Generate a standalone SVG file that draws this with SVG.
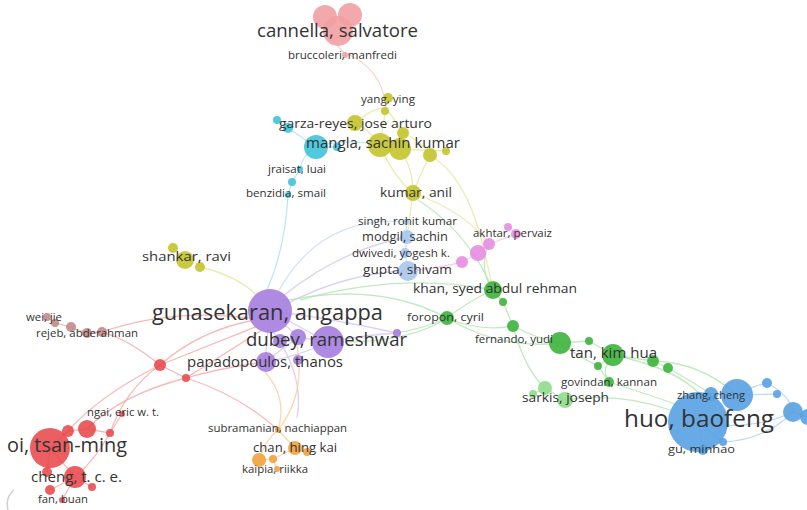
<svg xmlns="http://www.w3.org/2000/svg" width="807" height="510" viewBox="0 0 807 510">
<style>
text{font-family:"Open Sans","Noto Sans","DejaVu Sans",sans-serif;fill:#333;}
.e{fill:none;stroke-width:1.3;stroke-opacity:0.75;}
.er{stroke:#f4a3a3}.ep{stroke:#f6c6bc}.ey{stroke:#e4e49a}.ec{stroke:#a6e1ec}.elb{stroke:#c6daf3}.epk{stroke:#f1c2ee}
.eg{stroke:#ade3a9}.eb{stroke:#a9cdef}.epu{stroke:#d2c0f2}.eo{stroke:#f8ca98}.ebr{stroke:#dcb2b2}
.red{fill:#e8484b;fill-opacity:.88}.pk{fill:#f2a0a2;fill-opacity:.9}.yl{fill:#c4c42c;fill-opacity:.9}.cy{fill:#3ec3da;fill-opacity:.9}
.lb{fill:#a7c6ec;fill-opacity:.9}.pi{fill:#e68de1;fill-opacity:.9}.gr{fill:#3cb43c;fill-opacity:.9}.lg{fill:#8edb89;fill-opacity:.9}
.bl{fill:#58a1e2;fill-opacity:.9}.pu{fill:#a57de0;fill-opacity:.9}.or{fill:#f2a443;fill-opacity:.92}.br{fill:#c48a8a;fill-opacity:.9}
</style>
<rect width="807" height="510" fill="#fff"/>
<g id="connectors">
<path class="e ep" d="M343,52 Q383,68 386,108"/>
<path class="e ep" d="M338,46 Q350,60 343,55"/>
<path class="e ey" d="M386,108 L380,145"/>
<path class="e ey" d="M386,108 Q395,120 403,133"/>
<path class="e ey" d="M355,123 Q370,130 380,145"/>
<path class="e ey" d="M355,123 Q372,108 386,108"/>
<path class="e ey" d="M380,145 Q392,175 413,193"/>
<path class="e ey" d="M400,149 Q413,168 413,193"/>
<path class="e ey" d="M430,155 Q420,175 413,193"/>
<path class="e ey" d="M403,133 Q420,140 430,155"/>
<path class="e ey" d="M400,149 L446,151"/>
<path class="e ey" d="M413,193 Q466,212 489,244"/>
<path class="e ey" d="M413,193 Q410,215 407,237"/>
<path class="e ey" d="M430,155 C470,180 480,230 493,290"/>
<path class="e ey" d="M200,267 Q235,275 257,295"/>
<path class="e ec" d="M277,120 L288,128 L316,147 L337,147"/>
<path class="e ec" d="M316,147 Q302,155 300,169 L292,182 L288,195"/>
<path class="e ec" d="M288,195 Q285,250 266,292"/>
<path class="e ec" d="M316,147 Q345,138 380,145"/>
<path class="e elb" d="M406,222 L407,237 L405,253 L408,271"/>
<path class="e epu" d="M283,296 Q340,250 407,237"/>
<path class="e epu" d="M288,303 Q350,272 408,271"/>
<path class="e elb" d="M278,292 Q320,215 406,222"/>
<path class="e epk" d="M408,271 Q440,268 462,262 L478,253 L489,244 L516,234 L508,227"/>
<path class="e eg" d="M489,244 Q478,270 493,290 L503,302 L513,326"/>
<path class="e eg" d="M447,318 Q470,300 493,290"/>
<path class="e eg" d="M447,318 Q480,332 513,326"/>
<path class="e eg" d="M513,326 Q535,338 560,343"/>
<path class="e eg" d="M447,318 Q500,350 560,343"/>
<path class="e eg" d="M560,343 L589,341 L613,355"/>
<path class="e eg" d="M560,343 Q585,360 598,366 L613,355"/>
<path class="e eg" d="M613,355 L653,361 L668,368"/>
<path class="e eg" d="M613,355 Q600,370 609,382 L598,366"/>
<path class="e eg" d="M513,326 Q525,370 545,388 L565,400"/>
<path class="e eg" d="M545,388 L533,394"/>
<path class="e eg" d="M668,368 Q690,380 711,394"/>
<path class="e eg" d="M653,361 Q700,362 737,395"/>
<path class="e eg" d="M609,382 Q650,395 678,405"/>
<path class="e eg" d="M565,400 Q620,392 670,410"/>
<path class="e eg" d="M613,355 Q675,368 700,394"/>
<path class="e eg" d="M289,300 Q380,282 447,318"/>
<path class="e eg" d="M300,300 Q400,272 493,290"/>
<path class="e eg" d="M345,342 Q410,342 447,318"/>
<path class="e eg" d="M397,333 Q425,328 447,318"/>
<path class="e eg" d="M418,200 Q468,232 493,290"/>
<path class="e eb" d="M711,394 L737,395 Q755,385 767,383"/>
<path class="e eb" d="M737,395 L777,394"/>
<path class="e eb" d="M767,383 Q790,395 793,412 L807,417"/>
<path class="e eb" d="M698,422 Q750,432 793,412"/>
<path class="e eb" d="M698,422 L723,442 Q765,440 793,412"/>
<path class="e eb" d="M698,422 L703,450"/>
<path class="e epu" d="M270,311 L328,342 L298,337 L270,311 L265,362 L298,337"/>
<path class="e epu" d="M265,362 Q300,356 328,342 Q365,335 397,333"/>
<path class="e epu" d="M270,311 Q330,318 397,333"/>
<path class="e epu" d="M272,330 Q305,375 297,418"/>
<path class="e eo" d="M297,345 Q306,395 278,430"/>
<path class="e eo" d="M265,372 Q288,398 278,430 L295,448 L307,452"/>
<path class="e eo" d="M278,430 Q265,440 259,460 L273,459 L295,448"/>
<path class="e eo" d="M273,459 L277,469"/>
<path class="e er" d="M255,320 Q200,330 160,365"/>
<path class="e er" d="M258,326 Q210,345 160,365"/>
<path class="e er" d="M265,362 Q220,368 186,378"/>
<path class="e er" d="M262,330 Q215,360 186,378 L160,365"/>
<path class="e er" d="M160,365 Q130,340 102,332"/>
<path class="e er" d="M250,318 Q170,308 102,332"/>
<path class="e er" d="M160,365 Q125,390 110,433"/>
<path class="e er" d="M186,378 Q120,395 87,429"/>
<path class="e er" d="M160,365 Q100,395 68,431"/>
<path class="e er" d="M110,433 L87,429 L68,431 L50,448 L75,477"/>
<path class="e er" d="M122,414 L110,433 Q95,460 75,477 L92,487"/>
<path class="e er" d="M75,477 Q60,485 50,490 M75,477 L62,500 M47,472 L50,448"/>
<path class="e er" d="M186,378 Q240,395 278,430"/>
<path class="e ebr" d="M47,317 L55,323 L71,327 L87,333 L102,332"/>
<path d="M14,490 Q5,497 8,510" fill="none" stroke="#cfcfcf" stroke-width="1.5"/>
</g>
<g id="n-c2"><circle class="pk" cx="325" cy="17" r="12"/></g>
<g id="n-c3"><circle class="pk" cx="350" cy="15" r="12"/></g>
<g id="n-cannella"><circle class="pk" cx="338" cy="31" r="15"/><text x="257" y="37" font-size="18.5" textLength="161" lengthAdjust="spacingAndGlyphs">cannella, salvatore</text></g>
<g id="n-bruccoleri"><circle class="pk" cx="345" cy="55" r="3"/><text x="288" y="59" font-size="11" textLength="109" lengthAdjust="spacingAndGlyphs">bruccoleri, manfredi</text></g>
<g id="n-y2"><circle class="yl" cx="385" cy="111" r="4"/></g>
<g id="n-yang"><circle class="yl" cx="388" cy="98" r="5"/><text x="361" y="103" font-size="11" textLength="54" lengthAdjust="spacingAndGlyphs">yang, ying</text></g>
<g id="n-cy1"><circle class="cy" cx="277" cy="120" r="4"/></g>
<g id="n-cy2"><circle class="cy" cx="288" cy="128" r="5"/></g>
<g id="n-cy3"><circle class="cy" cx="316" cy="147" r="12"/></g>
<g id="n-cy4"><circle class="cy" cx="337" cy="147" r="4"/></g>
<g id="n-y3"><circle class="yl" cx="403" cy="133" r="6"/></g>
<g id="n-y4"><circle class="yl" cx="400" cy="149" r="11"/></g>
<g id="n-y5"><circle class="yl" cx="430" cy="155" r="7"/></g>
<g id="n-y6"><circle class="yl" cx="446" cy="151" r="4"/></g>
<g id="n-garza"><circle class="yl" cx="355" cy="123" r="8"/><text x="279" y="128" font-size="13.5" textLength="153" lengthAdjust="spacingAndGlyphs">garza-reyes, jose arturo</text></g>
<g id="n-mangla"><circle class="yl" cx="380" cy="145" r="12"/><text x="306" y="148" font-size="14.5" textLength="154" lengthAdjust="spacingAndGlyphs">mangla, sachin kumar</text></g>
<g id="n-cy5"><circle class="cy" cx="292" cy="182" r="4"/></g>
<g id="n-jraisat"><circle class="cy" cx="300" cy="169" r="3"/><text x="268" y="173" font-size="11" textLength="58" lengthAdjust="spacingAndGlyphs">jraisat, luai</text></g>
<g id="n-benzidia"><circle class="cy" cx="288" cy="195" r="3"/><text x="246" y="197" font-size="11" textLength="80" lengthAdjust="spacingAndGlyphs">benzidia, smail</text></g>
<g id="n-kumar"><circle class="yl" cx="413" cy="193" r="8"/><text x="380" y="197" font-size="13.5" textLength="72" lengthAdjust="spacingAndGlyphs">kumar, anil</text></g>
<g id="n-singh"><circle class="lb" cx="406" cy="222" r="3"/><text x="358" y="225" font-size="11" textLength="99" lengthAdjust="spacingAndGlyphs">singh, rohit kumar</text></g>
<g id="n-modgil"><circle class="lb" cx="407" cy="237" r="7"/><text x="362" y="241" font-size="12" textLength="86" lengthAdjust="spacingAndGlyphs">modgil, sachin</text></g>
<g id="n-dwivedi"><circle class="lb" cx="405" cy="253" r="5"/><text x="352" y="257" font-size="10.5" textLength="98" lengthAdjust="spacingAndGlyphs">dwivedi, yogesh k.</text></g>
<g id="n-gupta"><circle class="lb" cx="408" cy="271" r="10"/><text x="363" y="274" font-size="13.5" textLength="89" lengthAdjust="spacingAndGlyphs">gupta, shivam</text></g>
<g id="n-pk1"><circle class="pi" cx="508" cy="227" r="4"/></g>
<g id="n-pk2"><circle class="pi" cx="489" cy="244" r="6"/></g>
<g id="n-pk3"><circle class="pi" cx="478" cy="253" r="8"/></g>
<g id="n-pk4"><circle class="pi" cx="462" cy="262" r="6"/></g>
<g id="n-akhtar"><circle class="pi" cx="516" cy="234" r="5"/><text x="473" y="237" font-size="11" textLength="79" lengthAdjust="spacingAndGlyphs">akhtar, pervaiz</text></g>
<g id="n-sh1"><circle class="yl" cx="173" cy="248" r="5"/></g>
<g id="n-sh2"><circle class="yl" cx="200" cy="267" r="5"/></g>
<g id="n-shankar"><circle class="yl" cx="185" cy="260" r="9"/><text x="142" y="261" font-size="13" textLength="89" lengthAdjust="spacingAndGlyphs">shankar, ravi</text></g>
<g id="n-gr1"><circle class="gr" cx="503" cy="302" r="4"/></g>
<g id="n-gr2"><circle class="gr" cx="513" cy="326" r="6"/></g>
<g id="n-khan"><circle class="gr" cx="493" cy="290" r="9"/><text x="413" y="293" font-size="13.5" textLength="164" lengthAdjust="spacingAndGlyphs">khan, syed abdul rehman</text></g>
<g id="n-foropon"><circle class="gr" cx="447" cy="318" r="7"/><text x="407" y="321" font-size="11" textLength="77" lengthAdjust="spacingAndGlyphs">foropon, cyril</text></g>
<g id="n-gr3"><circle class="gr" cx="560" cy="343" r="11"/></g>
<g id="n-fernando"><text x="475" y="343" font-size="11" textLength="78" lengthAdjust="spacingAndGlyphs">fernando, yudi</text></g>
<g id="n-gr4"><circle class="gr" cx="589" cy="341" r="4"/></g>
<g id="n-gr5"><circle class="gr" cx="598" cy="366" r="4"/></g>
<g id="n-gr6"><circle class="gr" cx="653" cy="361" r="6"/></g>
<g id="n-gr7"><circle class="gr" cx="668" cy="368" r="5"/></g>
<g id="n-tan"><circle class="gr" cx="613" cy="355" r="11"/><text x="570" y="358" font-size="14.5" textLength="87" lengthAdjust="spacingAndGlyphs">tan, kim hua</text></g>
<g id="n-govindan"><circle class="gr" cx="609" cy="382" r="5"/><text x="561" y="386" font-size="11" textLength="96" lengthAdjust="spacingAndGlyphs">govindan, kannan</text></g>
<g id="n-lg1"><circle class="lg" cx="545" cy="388" r="7"/></g>
<g id="n-lg2"><circle class="lg" cx="533" cy="394" r="4"/></g>
<g id="n-sarkis"><circle class="lg" cx="565" cy="400" r="8"/><text x="522" y="402" font-size="13.5" textLength="87" lengthAdjust="spacingAndGlyphs">sarkis, joseph</text></g>
<g id="n-bl1"><circle class="bl" cx="737" cy="395" r="16"/></g>
<g id="n-bl2"><circle class="bl" cx="767" cy="383" r="5"/></g>
<g id="n-bl3"><circle class="bl" cx="777" cy="394" r="4"/></g>
<g id="n-bl4"><circle class="bl" cx="793" cy="412" r="10"/></g>
<g id="n-bl5"><circle class="bl" cx="808" cy="417" r="8"/></g>
<g id="n-bl6"><circle class="bl" cx="723" cy="442" r="4"/></g>
<g id="n-huo"><circle class="bl" cx="698" cy="422" r="30"/><text x="624" y="427" font-size="23" textLength="150" lengthAdjust="spacingAndGlyphs">huo, baofeng</text></g>
<g id="n-zhang"><circle class="bl" cx="711" cy="394" r="7"/><text x="677" y="399" font-size="11" textLength="68" lengthAdjust="spacingAndGlyphs">zhang, cheng</text></g>
<g id="n-gu"><circle class="bl" cx="703" cy="450" r="5"/><text x="668" y="453" font-size="11" textLength="67" lengthAdjust="spacingAndGlyphs">gu, minhao</text></g>
<g id="n-pu1"><circle class="pu" cx="298" cy="337" r="8"/></g>
<g id="n-pu2"><circle class="pu" cx="280" cy="341" r="7"/></g>
<g id="n-pu3"><circle class="pu" cx="397" cy="333" r="4"/></g>
<g id="n-pu4"><circle class="pu" cx="298" cy="360" r="5"/></g>
<g id="n-gunasekaran"><circle class="pu" cx="270" cy="311" r="22"/><text x="152" y="320" font-size="22" textLength="231" lengthAdjust="spacingAndGlyphs">gunasekaran, angappa</text></g>
<g id="n-dubey"><circle class="pu" cx="328" cy="342" r="16"/><text x="246" y="346" font-size="18" textLength="161" lengthAdjust="spacingAndGlyphs">dubey, rameshwar</text></g>
<g id="n-papadopoulos"><circle class="pu" cx="266" cy="362" r="10"/><text x="187" y="367" font-size="14.5" textLength="156" lengthAdjust="spacingAndGlyphs">papadopoulos, thanos</text></g>
<g id="n-br1"><circle class="br" cx="55" cy="323" r="4"/></g>
<g id="n-br2"><circle class="br" cx="71" cy="327" r="5"/></g>
<g id="n-br3"><circle class="br" cx="102" cy="332" r="5"/></g>
<g id="n-wei"><circle class="br" cx="47" cy="317" r="4"/><text x="26" y="321" font-size="11" textLength="36" lengthAdjust="spacingAndGlyphs">wei, jie</text></g>
<g id="n-rejeb"><circle class="br" cx="87" cy="333" r="5"/><text x="36" y="337" font-size="11" textLength="102" lengthAdjust="spacingAndGlyphs">rejeb, abderahman</text></g>
<g id="n-r1"><circle class="red" cx="160" cy="365" r="6"/></g>
<g id="n-r2"><circle class="red" cx="186" cy="378" r="4"/></g>
<g id="n-r3"><circle class="red" cx="110" cy="433" r="4"/></g>
<g id="n-r4"><circle class="red" cx="87" cy="429" r="9"/></g>
<g id="n-r5"><circle class="red" cx="68" cy="431" r="6"/></g>
<g id="n-ngai"><circle class="red" cx="122" cy="414" r="3"/><text x="87" y="416" font-size="11" textLength="72" lengthAdjust="spacingAndGlyphs">ngai, eric w. t.</text></g>
<g id="n-choi"><circle class="red" cx="50" cy="448" r="20"/><text x="7" y="452" font-size="20" textLength="120" lengthAdjust="spacingAndGlyphs">oi, tsan-ming</text></g>
<g id="n-r6"><circle class="red" cx="47" cy="472" r="5"/></g>
<g id="n-r7"><circle class="red" cx="50" cy="490" r="5"/></g>
<g id="n-r8"><circle class="red" cx="92" cy="487" r="4"/></g>
<g id="n-cheng"><circle class="red" cx="75" cy="477" r="11"/><text x="31" y="482" font-size="14" textLength="91" lengthAdjust="spacingAndGlyphs">cheng, t. c. e.</text></g>
<g id="n-fan"><circle class="red" cx="62" cy="500" r="3"/><text x="38" y="503" font-size="11" textLength="50" lengthAdjust="spacingAndGlyphs">fan, buan</text></g>
<g id="n-or1"><circle class="or" cx="259" cy="460" r="7"/></g>
<g id="n-or2"><circle class="or" cx="273" cy="459" r="4"/></g>
<g id="n-or3"><circle class="or" cx="307" cy="452" r="4"/></g>
<g id="n-subramanian"><circle class="or" cx="278" cy="430" r="3"/><text x="208" y="432" font-size="11" textLength="139" lengthAdjust="spacingAndGlyphs">subramanian, nachiappan</text></g>
<g id="n-chan"><circle class="or" cx="295" cy="448" r="7"/><text x="253" y="452" font-size="13" textLength="84" lengthAdjust="spacingAndGlyphs">chan, hing kai</text></g>
<g id="n-kaipia"><circle class="or" cx="277" cy="469" r="3"/><text x="242" y="473" font-size="11" textLength="66" lengthAdjust="spacingAndGlyphs">kaipia, riikka</text></g>
</svg>
